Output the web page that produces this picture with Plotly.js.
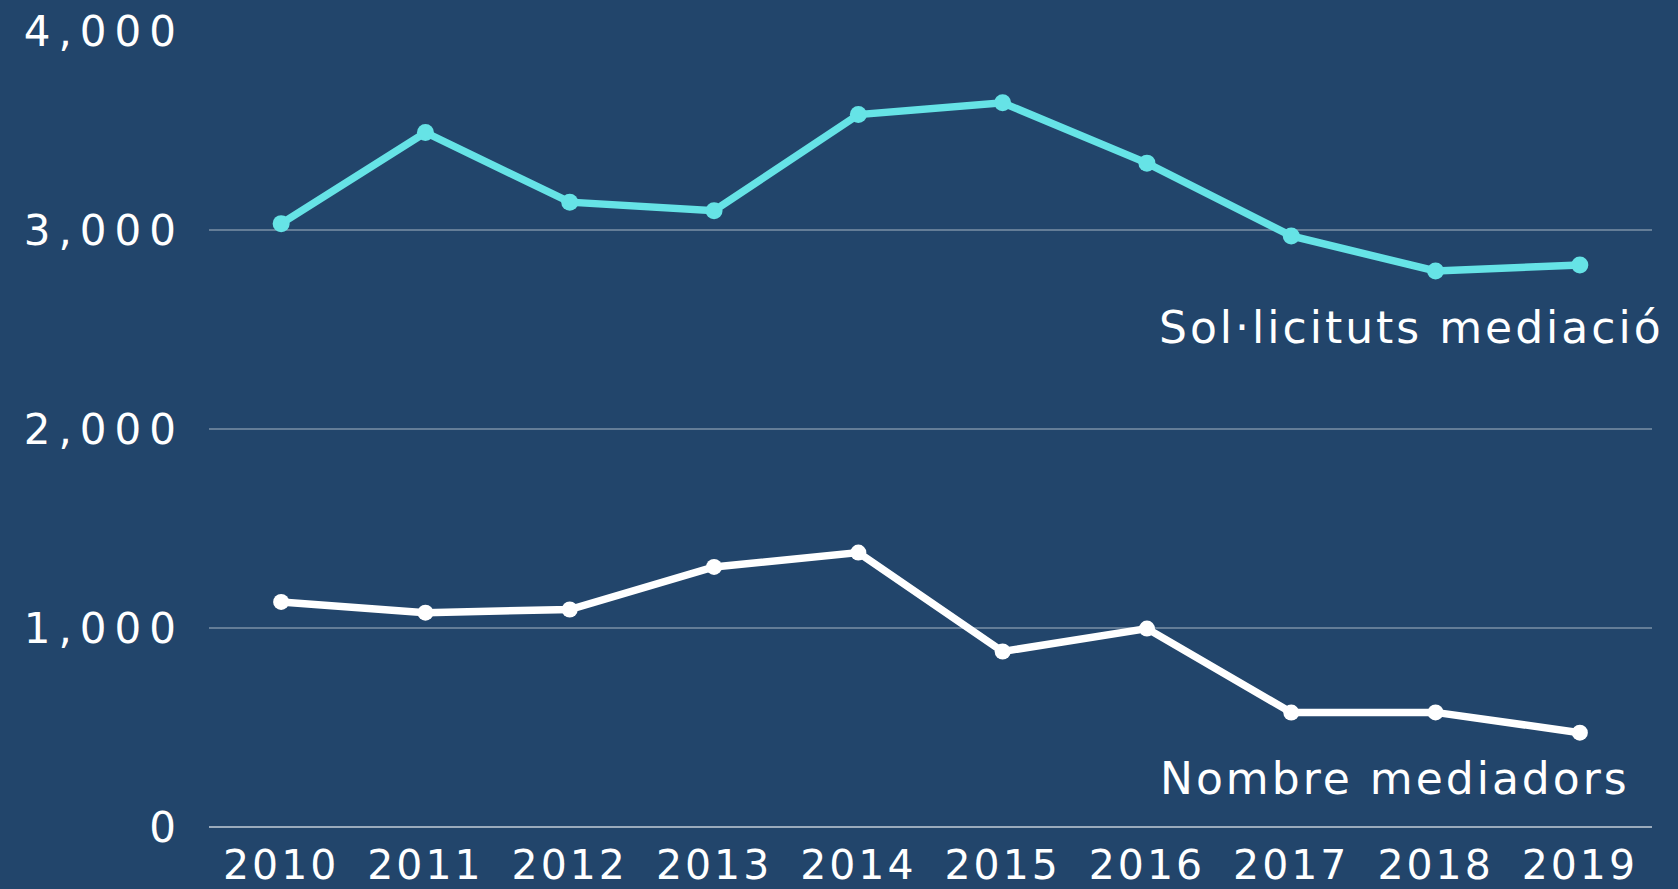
<!DOCTYPE html>
<html>
<head>
<meta charset="utf-8">
<script src="https://cdn.plot.ly/plotly-3.0.1.min.js"></script>
<style>
html,body{margin:0;padding:0;background:#22456b;}
#chart{width:1678px;height:889px;}
.ytick text{letter-spacing:8px;}
.xtick text{letter-spacing:3px;}
.annotation-text{letter-spacing:3px;}
</style>
</head>
<body>
<div id="chart"></div>
<script>
const years = ['2010','2011','2012','2013','2014','2015','2016','2017','2018','2019'];
const sollicituts = [3032, 3490, 3140, 3097, 3580, 3639, 3336, 2970, 2794, 2824];
const mediadors = [1131, 1077, 1093, 1307, 1379, 882, 997, 575, 576, 474];
const yTicks = [0, 1000, 2000, 3000, 4000];
const yTickText = ['0', '1,000', '2,000', '3,000', '4,000'];
const labelSollicituts = 'Sol·licituts mediació';
const labelMediadors = 'Nombre mediadors';

const bg = '#22456b';
const cyan = '#66e3e6';
const font = 'DejaVu Sans, sans-serif';

const traces = [
  {x: years, y: sollicituts, type: 'scatter', mode: 'lines+markers', cliponaxis: false,
   line: {color: cyan, width: 7.5}, marker: {color: cyan, size: 17}, hoverinfo: 'skip'},
  {x: years, y: mediadors, type: 'scatter', mode: 'lines+markers', cliponaxis: false,
   line: {color: '#ffffff', width: 7.5}, marker: {color: '#ffffff', size: 16}, hoverinfo: 'skip'}
];

const layout = {
  width: 1678, height: 889,
  paper_bgcolor: bg, plot_bgcolor: bg,
  showlegend: false,
  margin: {l: 209, r: 26, t: 30, b: 62},
  font: {family: font, color: '#ffffff', size: 40},
  xaxis: {type: 'category', range: [-0.5, 9.5], showgrid: false, zeroline: false,
          showline: false, ticks: '', tickfont: {family: font, size: 41, color: '#ffffff'},
          ticklabelstandoff: 10},
  yaxis: {range: [0, 4005], tickvals: yTicks, ticktext: yTickText, showgrid: true,
          gridcolor: 'rgba(255,255,255,0.3)', gridwidth: 2,
          zeroline: true, zerolinecolor: 'rgba(255,255,255,0.55)', zerolinewidth: 2,
          showline: false, ticks: '', tickfont: {family: font, size: 42, color: '#ffffff'},
          ticklabelstandoff: 24},
  annotations: [
    {xref: 'paper', yref: 'paper', x: 1.0097, y: 0.6265, xanchor: 'right', yanchor: 'middle',
     text: labelSollicituts, showarrow: false, font: {family: font, size: 44, color: '#ffffff'}},
    {xref: 'paper', yref: 'paper', x: 0.986, y: 0.061, xanchor: 'right', yanchor: 'middle',
     text: labelMediadors, showarrow: false, font: {family: font, size: 44, color: '#ffffff'}}
  ]
};

Plotly.newPlot('chart', traces, layout, {displayModeBar: false, staticPlot: true});
</script>
</body>
</html>
